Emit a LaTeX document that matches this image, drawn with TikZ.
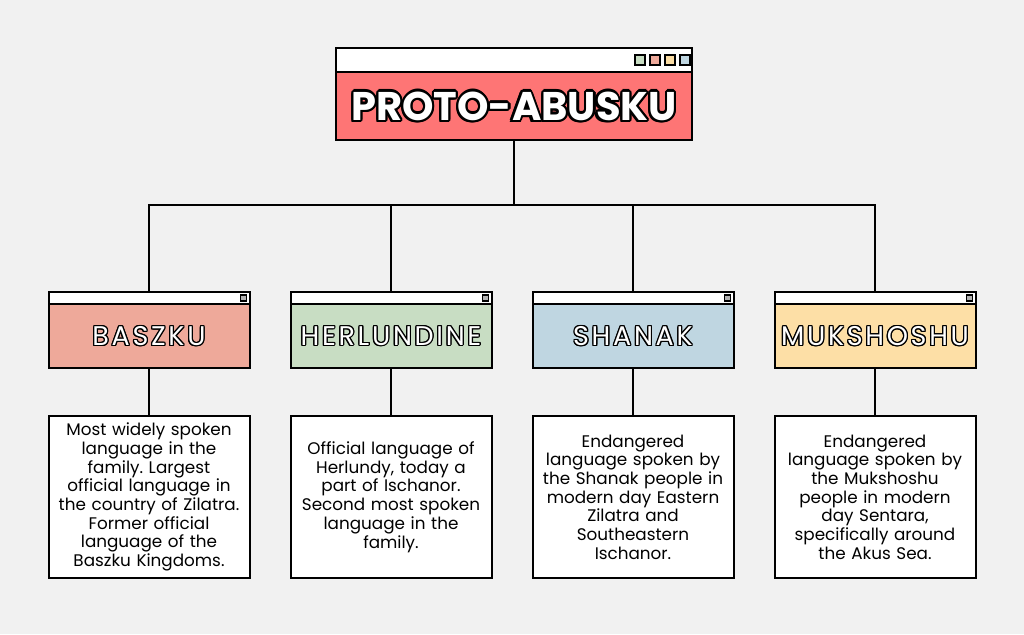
\documentclass[tikz,border=0pt]{standalone}
\usepackage{fontspec}
\setmainfont{Poppins}
\usetikzlibrary{positioning}

\definecolor{paper}{HTML}{F1F1F1}
\definecolor{protored}{HTML}{FE7575}
\definecolor{baszkuc}{HTML}{EEA99A}
\definecolor{herlc}{HTML}{C8DDC3}
\definecolor{shanakc}{HTML}{BFD6E1}
\definecolor{mukc}{HTML}{FDDFA6}

% white letters with a black rim and a small drop shadow
\newcommand\rimtext[5]{%
  \node[font=#3, text=black] at ([shift={(-#4,#4)}]#1) {#5};
  \foreach \a in {0,30,...,330}
    \node[font=#3, text=black] at ([shift={(\a:#4)}]#1) {#5};
  \node[font=#3, text=white] (#2) at (#1) {#5};
}

\begin{document}
\frenchspacing
\begin{tikzpicture}[
  x=1pt, y=-1pt,
  winbar/.style={draw, line width=2pt, fill=white, outer sep=0pt, inner sep=0pt},
  winbody/.style={draw, line width=2pt, outer sep=0pt, inner sep=0pt},
  descbox/.style={draw, line width=2pt, fill=white, outer sep=0pt, inner sep=0pt,
    minimum width=201pt, minimum height=162pt, align=center, text width=197pt,
    font=\fontsize{16.8}{18.7}\selectfont},
  sq/.style={draw, line width=1.5pt, minimum size=10pt, inner sep=0pt},
  dot/.style={draw, line width=1.5pt, fill=gray!60, minimum size=6pt, inner sep=0pt},
  link/.style={line width=2pt}
]
\fill[paper] (0,0) rectangle (1024,634);

% top window
\node[winbar, minimum width=356pt, minimum height=24pt] (topbar) at (514,60) {};
\node[winbody, fill=protored, minimum width=356pt, minimum height=68pt, below=0pt of topbar] (top) {};
\node[sq, fill=herlc] (sqa) at (640,60) {};
\node[sq, fill=baszkuc, right=3.5pt of sqa] (sqb) {};
\node[sq, fill=mukc, right=3.5pt of sqb] (sqc) {};
\node[sq, fill=shanakc, right=3.5pt of sqc] (sqd) {};
\rimtext{top}{toptitle}{\fontsize{40}{40}\bfseries\selectfont}{2.2}{PROTO-ABUSKU}

% four languages
\foreach \i/\x/\col/\name/\desc in {
  1/149/baszkuc/BASZKU/{Most widely spoken\\language in the\\family. Largest\\official language in\\the country of Zilatra.\\Former official\\language of the\\Baszku Kingdoms.},
  2/391/herlc/HERLUNDINE/{Official language of\\Herlundy, today a\\part of Ischanor.\\Second most spoken\\language in the\\family.},
  3/633/shanakc/SHANAK/{Endangered\\language spoken by\\the Shanak people in\\modern day Eastern\\Zilatra and\\Southeastern\\Ischanor.},
  4/875/mukc/MUKSHOSHU/{Endangered\\language spoken by\\the Mukshoshu\\people in modern\\day Sentara,\\specifically around\\the Akus Sea.}}
{
  \node[winbar, minimum width=201pt, minimum height=12pt] (bar\i) at (\x,298) {};
  \node[winbody, fill=\col, minimum width=201pt, minimum height=64pt, below=0pt of bar\i] (head\i) {};
  \node[dot] (sq\i) at ([xshift=-6pt]bar\i.east) {};
  \rimtext{head\i}{name\i}{\fontsize{27}{27}\selectfont\addfontfeature{LetterSpace=10}}{1.2}{\name}
  \node[descbox] (txt\i) at (\x,497) {\desc};
  \draw[link] (head\i.south) -- (txt\i.north);
}

% tree connectors
\coordinate (split) at (514,205);
\draw[link] (top.south) -- (split);
\draw[link] (bar1.north) |- (split) -| (bar4.north);
\draw[link] (bar2.north) -- (bar2.north |- split);
\draw[link] (bar3.north) -- (bar3.north |- split);
\end{tikzpicture}
\end{document}
